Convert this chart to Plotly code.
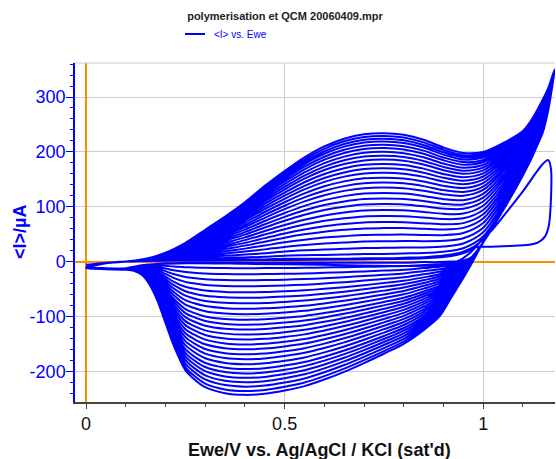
import plotly.graph_objects as go

# ---------------- data ----------------
# Forward (anodic) scan, potentials in V
E_FWD = [0.0, 0.05, 0.1, 0.15, 0.2, 0.25, 0.3, 0.35, 0.4, 0.45, 0.5, 0.55, 0.6, 0.65,
         0.7, 0.75, 0.8, 0.85, 0.9, 0.95, 1.0, 1.05, 1.1, 1.125, 1.15, 1.165, 1.18]
# outermost (last) cycle, forward current in µA
I_FWD_OUTER = [-12, -3, 0, 5, 16, 34, 58, 82, 108, 138, 165, 190, 210, 224,
               232, 234, 231, 222, 208, 198, 200, 216, 238, 262, 295, 318, 350]
# innermost (early) cycle, forward current in µA
I_FWD_INNER = [-10, -3, 0, 1, 2, 3, 3, 4, 4, 4, 5, 5, 5, 5,
               6, 6, 7, 8, 11, 18, 40, 95, 160, 195, 235, 280, 348]

# Reverse (cathodic) scan
E_REV = [1.165, 1.15, 1.125, 1.1, 1.05, 1.0, 0.97, 0.95, 0.92, 0.89, 0.85, 0.8, 0.75,
         0.7, 0.65, 0.6, 0.55, 0.5, 0.45, 0.4, 0.35, 0.3, 0.27, 0.25, 0.22, 0.2,
         0.18, 0.16, 0.14, 0.12, 0.1, 0.05]
I_REV_OUTER = [290, 245, 200, 162, 97, 35, -5, -30, -65, -100, -125, -150, -168,
               -185, -201, -215, -227, -235, -241, -243, -240, -229, -213, -198, -152, -112,
               -72, -42, -24, -17, -15, -14]
I_REV_INNER = [282, 238, 193, 157, 93, 35, 8, 2, 0, -1, -1, -2, -2,
               -2, -2, -2, -2, -2, -2, -2, -2, -2, -2, -2, -3, -3,
               -4, -6, -9, -12, -14, -12]

# anodic current near 0.75 V for each cycle (µA), innermost -> outermost
ANODIC = [6, 14, 25, 37, 49, 61, 72, 83, 94, 105, 115, 125, 135, 144,
          153, 162, 170, 178, 186, 193, 200, 207, 213, 219, 224, 229, 234]
# cathodic minimum near 0.4 V for each cycle (µA)
CATHODIC = [-2, -12, -23, -34, -45, -56, -66, -76, -86, -96, -106, -115, -124, -133,
            -142, -151, -160, -169, -178, -187, -196, -204, -212, -220, -228, -236, -243]

# first (nucleation) cycle
C1_E = [0.0, 0.1, 0.3, 0.5, 0.7, 0.85, 0.92, 0.96, 0.98, 1.02, 1.08, 1.12, 1.139, 1.156,
        1.166, 1.171, 1.164, 1.149, 1.1, 1.05, 1.023, 1.0, 0.97, 0.94, 0.9, 0.8, 0.6,
        0.4, 0.25, 0.15, 0.1, 0.05]
C1_I = [-6, 0, 2, 3, 4, 6, 10, 18, 26, 27, 29, 31, 35, 46,
        68, 168, 185, 177, 128, 82, 58, 42, 18, 2, -6, -8, -6,
        -4, -3, -6, -12, -12]

X_TICKS = [0, 0.5, 1]
X_TICKTEXT = ["0", "0.5", "1"]
Y_TICKS = [-200, -100, 0, 100, 200, 300]
Y_TICKTEXT = ["-200", "-100", "0", "100", "200", "300"]

# ---------------- build the continuous trace ----------------
xs, ys = list(C1_E), list(C1_I)
a_in, a_out = ANODIC[0], ANODIC[-1]
c_in, c_out = CATHODIC[0], CATHODIC[-1]
for a, c in zip(ANODIC, CATHODIC):
    wf = (a - a_in) / (a_out - a_in)
    wr = (c - c_in) / (c_out - c_in)
    for e, lo, hi in zip(E_FWD, I_FWD_INNER, I_FWD_OUTER):
        xs.append(e)
        ys.append(lo + wf * (hi - lo))
    for e, lo, hi in zip(E_REV, I_REV_INNER, I_REV_OUTER):
        xs.append(e)
        ys.append(lo + wr * (hi - lo))

FONT = "Arial, Liberation Sans, sans-serif"
BLUE = "#0000FF"

fig = go.Figure()
fig.add_trace(go.Scatter(x=xs, y=ys, mode="lines", name="&lt;I&gt; vs. Ewe",
                         line=dict(color=BLUE, width=2, shape="spline", smoothing=0.8),
                         showlegend=False))

W, H = 556, 459
L, R, T, B = 75, 1, 63, 57
PW, PH = W - L - R, H - T - B


def px(x):
    return (x - L) / PW


def py(y):
    return (H - B - y) / PH


fig.update_layout(
    width=W, height=H,
    margin=dict(l=L, r=R, t=T, b=B),
    paper_bgcolor="white", plot_bgcolor="white",
    font=dict(family=FONT),
    title=dict(text="<b>polymerisation et QCM 20060409.mpr</b>",
               font=dict(size=11, color="#222222", family=FONT),
               xref="container", x=285 / W, xanchor="center",
               yref="container", y=1 - 16.5 / H, yanchor="middle"),
    xaxis=dict(range=[-0.028, 1.181], tickvals=X_TICKS, ticktext=X_TICKTEXT,
               tickfont=dict(size=18, color="#111111", family=FONT),
               ticks="outside", ticklen=5, tickcolor="#444444", tickwidth=1,
               minor=dict(dtick=0.1, ticks="outside", ticklen=3, tickcolor="#444444",
                          showgrid=False),
               showline=True, linecolor="#444444", linewidth=1.5,
               showgrid=True, gridcolor="#cccccc", gridwidth=1,
               zeroline=True, zerolinecolor="#FF8C00", zerolinewidth=1.5),
    yaxis=dict(range=[-256, 362], tickvals=Y_TICKS, ticktext=Y_TICKTEXT,
               tickfont=dict(size=18, color=BLUE, family=FONT),
               ticks="outside", ticklen=7, tickcolor=BLUE, tickwidth=1,
               ticklabelstandoff=-3,
               minor=dict(dtick=20, ticks="outside", ticklen=3, tickcolor=BLUE,
                          showgrid=False),
               showline=True, linecolor=BLUE, linewidth=1.5,
               showgrid=True, gridcolor="#cccccc", gridwidth=1,
               zeroline=True, zerolinecolor="#FF8C00", zerolinewidth=1.5),
    shapes=[
        dict(type="line", xref="paper", yref="paper", x0=0, x1=1, y0=1, y1=1,
             line=dict(color="#cccccc", width=1)),
        dict(type="line", xref="paper", yref="paper", x0=px(185), x1=px(205),
             y0=py(34), y1=py(34), line=dict(color=BLUE, width=2)),
    ],
    annotations=[
        dict(text="&lt;I&gt; vs. Ewe", xref="paper", yref="paper", x=px(212), y=py(34),
             xanchor="left", yanchor="middle", showarrow=False,
             font=dict(size=10, color=BLUE, family=FONT)),
        dict(text="<b>Ewe/V vs. Ag/AgCl / KCl (sat'd)</b>", xref="paper", yref="paper",
             x=px(319), y=py(450), xanchor="center", yanchor="middle", showarrow=False,
             font=dict(size=18, color="#111111", family=FONT)),
        dict(text="<b>&lt;I&gt;/µA</b>", xref="paper", yref="paper",
             x=px(20), y=py(232), xanchor="center", yanchor="middle", showarrow=False,
             textangle=-90, font=dict(size=18, color=BLUE, family=FONT)),
    ],
)

fig.write_html("out.html")
